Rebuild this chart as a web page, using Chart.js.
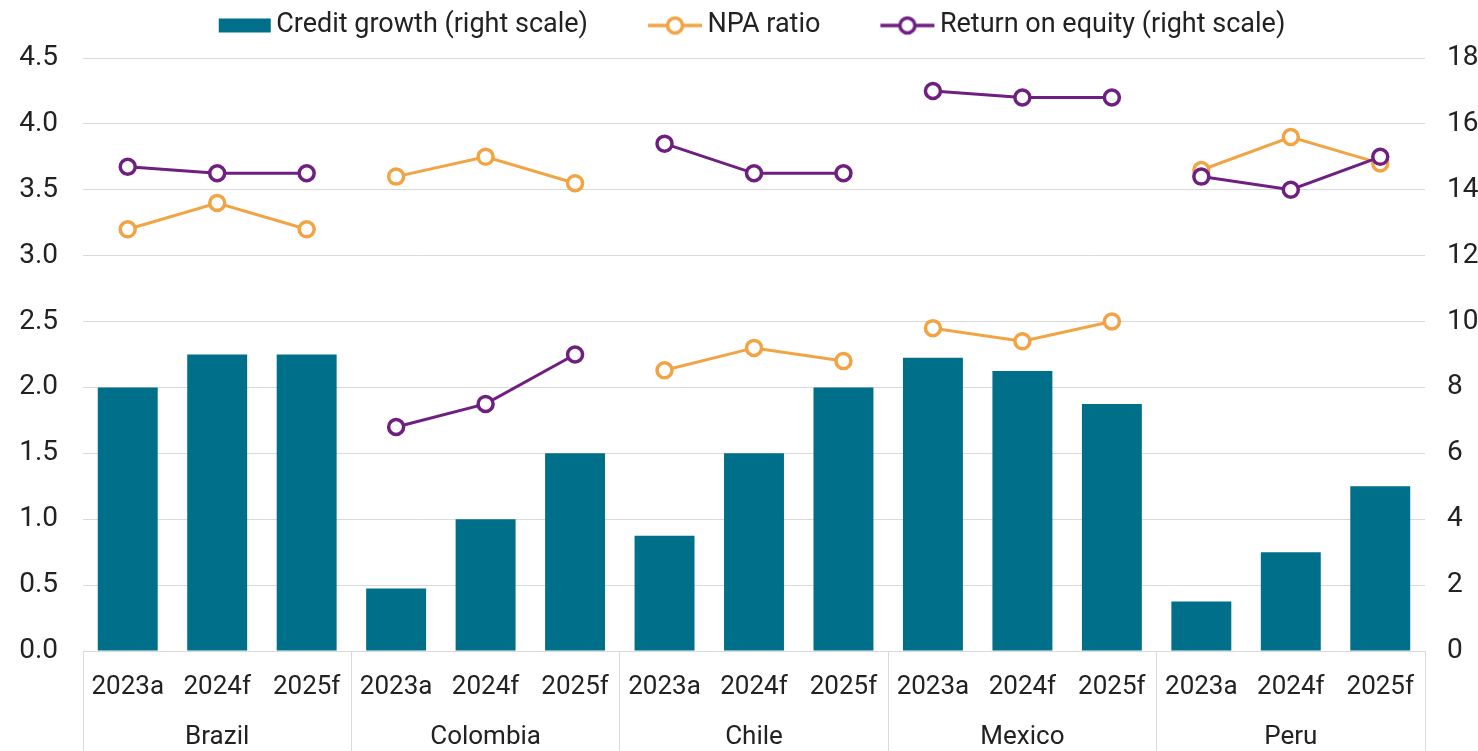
<!DOCTYPE html>
<html>
<head>
<meta charset="utf-8">
<script src="https://cdn.jsdelivr.net/npm/chart.js@4"></script>
<style>
  html, body { margin: 0; padding: 0; background: #fff; overflow: hidden; }
  #wrap { position: relative; width: 1478px; height: 751px; }
</style>
</head>
<body>
<div id="wrap"><canvas id="bankChart"></canvas></div>
<script>
// categories
const countries = ['Brazil', 'Colombia', 'Chile', 'Mexico', 'Peru'];
const years = ['2023a', '2024f', '2025f'];

// series, in country order, three years each
const creditGrowth = [8.0, 9.0, 9.0, 1.9, 4.0, 6.0, 3.5, 6.0, 8.0, 8.9, 8.5, 7.5, 1.5, 3.0, 5.0];
const npaRatio = [3.2, 3.4, 3.2, 3.6, 3.75, 3.55, 2.13, 2.3, 2.2, 2.45, 2.35, 2.5, 3.65, 3.9, 3.7];
const returnOnEquity = [14.7, 14.5, 14.5, 6.8, 7.5, 9.0, 15.4, 14.5, 14.5, 17.0, 16.8, 16.8, 14.4, 14.0, 15.0];

// axis ranges
const leftMax = 4.5, leftStep = 0.5;
const rightMax = 18, rightStep = 2;

const TEAL = '#006f89';
const ORANGE = '#f2a444';
const PURPLE = '#6e1f80';
const GRID = '#d9d9d9';
const TEXT = '#222222';
const FONT = "'Roboto', sans-serif";

// year on every tick, country name as a second line under the middle year
const labels = [];
countries.forEach(c => {
    years.forEach((y, i) => labels.push(i === 1 ? [y, c] : [y]));
});

// no line between two different countries
const sameCountry = ctx => Math.floor(ctx.p0DataIndex / 3) === Math.floor(ctx.p1DataIndex / 3);

// legend icons: the canvas is centred on the legend box, the icon sits at its right end
const ICON_BOX = 94;
const ICON_W = ICON_BOX + 20;
const ICON_H = 24;

function barIcon(color) {
    const c = document.createElement('canvas');
    c.width = ICON_W; c.height = ICON_H;
    const g = c.getContext('2d');
    g.fillStyle = color;
    g.fillRect(ICON_W - 2 - 52, 5, 52, 14);
    return c;
}

function lineIcon(color) {
    const c = document.createElement('canvas');
    c.width = ICON_W; c.height = ICON_H;
    const g = c.getContext('2d');
    const right = ICON_W - 2, left = right - 54, mid = (left + right) / 2;
    g.strokeStyle = color;
    g.lineWidth = 3.5;
    g.beginPath(); g.moveTo(left, 12); g.lineTo(right, 12); g.stroke();
    g.beginPath(); g.arc(mid, 12, 7.5, 0, Math.PI * 2);
    g.fillStyle = '#fff'; g.fill(); g.stroke();
    return c;
}

const legendIcons = [barIcon(TEAL), lineIcon(ORANGE), lineIcon(PURPLE)];

// a bit more room under the legend row, and pull the row left
// so the blank part of the first icon box doesn't push it off centre
const legendTweak = {
    id: 'legendTweak',
    afterInit(chart) {
        const legend = chart.legend;
        if (!legend || legend._tweaked) return;
        const fit = legend.fit;
        legend.fit = function () {
            fit.call(this);
            this.height += 9;
        };
        const draw = legend.draw;
        legend.draw = function () {
            this.ctx.save();
            this.ctx.translate(-12, 0);
            draw.apply(this, arguments);
            this.ctx.restore();
        };
        legend._tweaked = true;
    }
};

const lineStyle = color => ({
    type: 'line',
    borderColor: color,
    borderWidth: 3,
    pointRadius: 7.5,
    pointBorderWidth: 3.5,
    pointBackgroundColor: '#fff',
    pointBorderColor: color,
    fill: false,
    tension: 0,
    segment: {
        borderColor: ctx => sameCountry(ctx) ? color : 'transparent'
    }
});

Chart.defaults.font.family = FONT;
Chart.defaults.color = TEXT;

new Chart(document.getElementById('bankChart'), {
    data: {
        labels: labels,
        datasets: [
            {
                type: 'bar',
                label: 'Credit growth (right scale)',
                data: creditGrowth,
                yAxisID: 'y1',
                backgroundColor: TEAL,
                barPercentage: 0.67,
                categoryPercentage: 1.0,
                order: 3
            },
            Object.assign(lineStyle(ORANGE), {
                label: 'NPA ratio',
                data: npaRatio,
                yAxisID: 'y',
                order: 2
            }),
            Object.assign(lineStyle(PURPLE), {
                label: 'Return on equity (right scale)',
                data: returnOnEquity,
                yAxisID: 'y1',
                order: 1
            })
        ]
    },
    plugins: [legendTweak],
    options: {
        responsive: true,
        maintainAspectRatio: false,
        animation: false,
        events: [],
        layout: { padding: 0 },
        plugins: {
            tooltip: { enabled: false },
            legend: {
                position: 'top',
                align: 'center',
                labels: {
                    usePointStyle: true,
                    pointStyleWidth: ICON_BOX,
                    padding: 12,
                    font: { size: 27 },
                    color: TEXT,
                    sort: (a, b) => a.datasetIndex - b.datasetIndex,
                    generateLabels: chart => Chart.defaults.plugins.legend.labels.generateLabels(chart)
                        .map(item => {
                            item.pointStyle = legendIcons[item.datasetIndex];
                            item.rotation = 0;
                            return item;
                        })
                }
            }
        },
        scales: {
            x: {
                offset: true,
                afterFit: s => { s.height = 100; },
                grid: {
                    offset: true,
                    drawOnChartArea: false,
                    drawTicks: true,
                    tickLength: 100,
                    color: ctx => (ctx.index === undefined || ctx.index % 3 === 0) ? GRID : 'transparent'
                },
                border: { display: true, color: GRID },
                ticks: {
                    autoSkip: false,
                    maxRotation: 0,
                    padding: -89,
                    color: TEXT,
                    font: { size: 26, lineHeight: '50px' }
                }
            },
            y: {
                position: 'left',
                min: 0,
                max: leftMax,
                grid: { color: GRID, drawTicks: false },
                border: { display: false },
                afterFit: s => { s.width = 83; },
                ticks: {
                    stepSize: leftStep,
                    padding: 25,
                    color: TEXT,
                    font: { size: 28 },
                    callback: v => v.toFixed(1)
                }
            },
            y1: {
                position: 'right',
                min: 0,
                max: rightMax,
                grid: { drawOnChartArea: false, drawTicks: false },
                border: { display: false },
                afterFit: s => { s.width = 53; },
                ticks: {
                    stepSize: rightStep,
                    padding: 22,
                    color: TEXT,
                    font: { size: 28 }
                }
            }
        }
    }
});
</script>
</body>
</html>
